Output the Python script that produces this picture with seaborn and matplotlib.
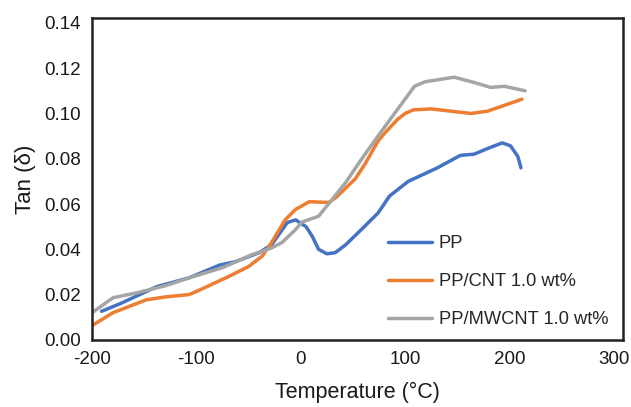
import numpy as np
import pandas as pd
import matplotlib
matplotlib.use('Agg')
import matplotlib.pyplot as plt
import seaborn as sns

# ── Data ──────────────────────────────────────────────────────────────────
pp_temp = [-191, -173, -138, -107, -78, -62, -40, -28, -13, -5, 5, 11, 17, 25,
           33, 43, 58, 74, 85, 103, 131, 153, 166, 179, 193, 201, 208, 211]
pp_tan = [0.0126, 0.016, 0.0235, 0.0274, 0.033, 0.0346, 0.0385, 0.042, 0.0518,
          0.053, 0.050, 0.0457, 0.040, 0.038, 0.0385, 0.042, 0.0487, 0.056,
          0.0635, 0.070, 0.076, 0.0815, 0.082, 0.0845, 0.087, 0.0857, 0.081, 0.076]

cnt_temp = [-199, -180, -148, -129, -107, -97, -69, -50, -37, -28, -15, -5, 8,
            27, 34, 52, 62, 74, 81, 93, 100, 108, 125, 163, 179, 212]
cnt_tan = [0.0066, 0.012, 0.0177, 0.019, 0.020, 0.022, 0.028, 0.0324, 0.037,
           0.043, 0.053, 0.0576, 0.061, 0.0607, 0.063, 0.071, 0.078, 0.0878,
           0.0916, 0.0975, 0.1000, 0.1016, 0.102, 0.100, 0.101, 0.1063]

mw_temp = [-200, -180, -157, -129, -107, -75, -47, -28, -18, -5, 1, 17, 30, 43,
           58, 74, 93, 109, 119, 147, 166, 182, 195, 215]
mw_tan = [0.012, 0.0186, 0.0208, 0.024, 0.0274, 0.0319, 0.0376, 0.0406, 0.043,
          0.0487, 0.052, 0.0546, 0.062, 0.0695, 0.0797, 0.090, 0.102, 0.112,
          0.114, 0.116, 0.1137, 0.1115, 0.112, 0.110]

labels = ['PP', 'PP/CNT 1.0 wt%', 'PP/MWCNT 1.0 wt%']
colors = ['#4472C4', '#ED7D31', '#A5A5A5']

x_ticks = [-200, -100, 0, 100, 200, 300]
y_ticks = [0.00, 0.02, 0.04, 0.06, 0.08, 0.10, 0.12, 0.14]

df = pd.concat([
    pd.DataFrame({'T': pp_temp, 'tan': pp_tan, 'sample': labels[0]}),
    pd.DataFrame({'T': cnt_temp, 'tan': cnt_tan, 'sample': labels[1]}),
    pd.DataFrame({'T': mw_temp, 'tan': mw_tan, 'sample': labels[2]}),
], ignore_index=True)

# ── Style ──────────────────────────────────────────────────────────────────
sns.set_theme(style='white')
plt.rcParams['font.family'] = ['Liberation Sans', 'DejaVu Sans']

fig, ax = plt.subplots(figsize=(6.31, 4.07), dpi=100)
fig.subplots_adjust(left=0.146, right=0.987, bottom=0.165, top=0.956)

sns.lineplot(data=df, x='T', y='tan', hue='sample', hue_order=labels,
             palette=colors, lw=2.5, sort=False, estimator=None, ax=ax)

ax.set_xlim(-200, 308.6)
ax.set_ylim(0, 0.1422)
ax.set_xticks(x_ticks)
ax.set_xticklabels([str(t) for t in x_ticks])
ax.set_yticks(y_ticks)
ax.set_yticklabels([f'{t:.2f}' for t in y_ticks])
ax.tick_params(axis='both', direction='out', length=5, width=1.3,
               color='#222222', labelsize=13.5, labelcolor='#1a1a1a', pad=3)

for sp in ax.spines.values():
    sp.set_linewidth(1.8)
    sp.set_color('#222222')

ax.set_xlabel('Temperature (°C)', fontsize=15.5, color='#1a1a1a', labelpad=10)
ax.set_ylabel('Tan (δ)', fontsize=16, color='#1a1a1a', labelpad=6)

ax.legend(loc='upper left', bbox_to_anchor=(0.558, 0.325), frameon=False,
          fontsize=13.2, handlelength=2.4, handletextpad=0.35,
          labelspacing=1.15, borderpad=0, borderaxespad=0)

plt.savefig('out.png', dpi=100)
